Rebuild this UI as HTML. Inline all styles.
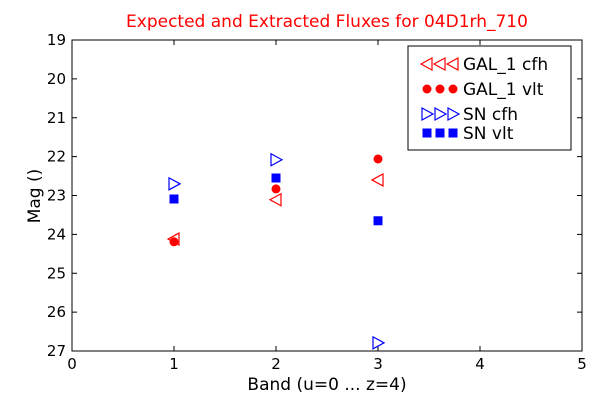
<!DOCTYPE html>
<html><head><meta charset="utf-8"><style>body{margin:0;background:#fff}svg{display:block;font-family:"DejaVu Sans","Liberation Sans",sans-serif}</style></head>
<body>
<svg id="c" width="600" height="400"></svg>
<script>
const xTicks=[0,1,2,3,4,5];
const yTicks=[19,20,21,22,23,24,25,26,27];
const bands=[1,2,3];
const galCfh=[24.12,23.11,22.6];
const galVlt=[24.19,22.83,22.06];
const snCfh=[22.7,22.08,26.79];
const snVlt=[23.09,22.55,23.65];
const NS="http://www.w3.org/2000/svg";
const svg=document.getElementById('c');
const L=72,R=582,T=40,B=351;
const X=v=>L+(v-0)/(5-0)*(R-L);
const Y=v=>T+(v-19)/(27-19)*(B-T);
function mk(tag,a,p){const e=document.createElementNS(NS,tag);for(const k in a)e.setAttribute(k,a[k]);(p||svg).appendChild(e);return e;}
function txt(s,a){const e=mk('text',a);e.textContent=s;return e;}
let t=txt('Expected and Extracted Fluxes for 04D1rh_710',{x:327,y:27,'text-anchor':'middle','font-size':17,fill:'#f00'});

let f=mk('rect',{x:L,y:T,width:R-L,height:B-T,fill:'none',stroke:'#000'});

xTicks.forEach(v=>{const x=X(v);mk('line',{x1:x,x2:x,y1:B,y2:B-5,stroke:'#000'});mk('line',{x1:x,x2:x,y1:T,y2:T+5,stroke:'#000'});
 const e=txt(String(v),{x:x,y:B+18,'text-anchor':'middle','font-size':15});});
yTicks.forEach(v=>{const y=Y(v);mk('line',{x1:L,x2:L+5,y1:y,y2:y,stroke:'#000'});mk('line',{x1:R,x2:R-5,y1:y,y2:y,stroke:'#000'});
 const e=txt(String(v),{x:L-6,y:y+5,'text-anchor':'end','font-size':15});});
t=txt('Band (u=0 ... z=4)',{x:327,y:390,'text-anchor':'middle','font-size':17});
t=txt('Mag ()',{x:40,y:196,'text-anchor':'middle','font-size':17,transform:'rotate(-90 40 196)'});
function marker(kind,x,y,g){
 if(kind==='lt')return mk('polygon',{points:`${x-6},${y} ${x+5},${y-6} ${x+5},${y+6}`,fill:'none',stroke:'#f00','stroke-width':1.2},g);
 if(kind==='rt')return mk('polygon',{points:`${x+6},${y} ${x-5},${y-6} ${x-5},${y+6}`,fill:'none',stroke:'#00f','stroke-width':1.2},g);
 if(kind==='c')return mk('circle',{cx:x,cy:y,r:4.5,fill:'#f00'},g);
 return mk('rect',{x:x-4.5,y:y-4.5,width:9,height:9,fill:'#00f'},g);
}
const series=[['gal-cfh','lt',galCfh],['gal-vlt','c',galVlt],['sn-cfh','rt',snCfh],['sn-vlt','s',snVlt]];
series.forEach(([n,k,vals])=>{const g=mk('g',{});
 vals.forEach((v,i)=>{const m=marker(k,X(bands[i]),Y(v),g);});});
const lg=mk('g',{});
mk('rect',{x:408,y:46,width:163,height:104,fill:'#fff',stroke:'#000'},lg);
const labels=['GAL_1 cfh','GAL_1 vlt','SN cfh','SN vlt'];const ly=[64,89,114,133];
series.forEach(([n,k],i)=>{[427,440,453].forEach(x=>marker(k,x,ly[i],lg));
 const e=txt(labels[i],{x:463,y:ly[i]+6,'font-size':17},lg);lg.appendChild(e);});
</script>
</body></html>
